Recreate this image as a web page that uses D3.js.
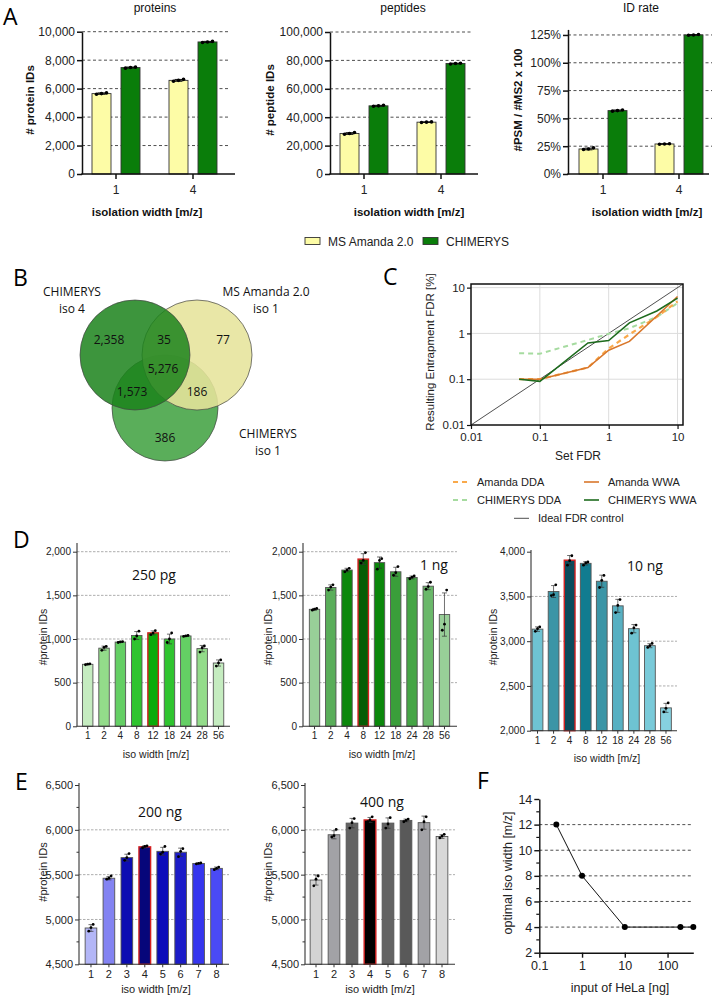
<!DOCTYPE html>
<html><head><meta charset="utf-8">
<script src="https://cdn.jsdelivr.net/npm/d3@7"></script>
<style>
body{margin:0;background:#fff}
</style></head><body>
<svg id="fig" width="715" height="999"></svg>
<script>
// ================= DATA =================
// Panel A
const isoGroupsA = ["1", "4"];
const seriesA = ["MS Amanda 2.0", "CHIMERYS"];
const proteinsAmanda = [5650, 6580];
const proteinsChimerys = [7480, 9280];
const proteinsRepsAmanda = [[5600, 5650, 5700], [6520, 6580, 6650]];
const proteinsRepsChimerys = [[7440, 7480, 7510], [9240, 9280, 9320]];
const peptidesAmanda = [28500, 36500];
const peptidesChimerys = [48000, 77800];
const peptidesRepsAmanda = [[28000, 28500, 29200], [36300, 36500, 36700]];
const peptidesRepsChimerys = [[47700, 48000, 48400], [77500, 77800, 78000]];
const idRateAmanda = [22.5, 27];
const idRateChimerys = [57, 125];
const idRateRepsAmanda = [[22, 22.5, 23.5], [26.8, 27, 27.2]];
const idRateRepsChimerys = [[56.5, 57, 57.6], [124.7, 125, 125.4]];
const proteinTicks = [0, 2000, 4000, 6000, 8000, 10000];
const peptideTicks = [0, 20000, 40000, 60000, 80000, 100000];
const idRateTicks = [0, 25, 50, 75, 100, 125];

// Panel B (Venn)
const vennSetNames = [["CHIMERYS", "iso 4"], ["MS Amanda 2.0", "iso 1"], ["CHIMERYS", "iso 1"]];
const vennCounts = ["2,358", "35", "77", "5,276", "1,573", "186", "386"];

// Panel C
const setFDR = [0.05, 0.1, 0.5, 1, 2, 5, 10];
const amandaDDA = [0.1, 0.1, 0.18, 0.47, 0.95, 2.3, 5.0];
const amandaWWA = [0.1, 0.1, 0.18, 0.43, 0.67, 2.4, 6.4];
const chimerysDDA = [0.37, 0.36, 0.72, 0.98, 1.3, 2.3, 4.6];
const chimerysWWA = [0.1, 0.09, 0.62, 0.7, 1.7, 3.1, 5.9];
const idealFDR = [0.01, 12];
const logTicksC = [0.01, 0.1, 1, 10];
const legendC = ["Amanda DDA", "Amanda WWA", "CHIMERYS DDA", "CHIMERYS WWA", "Ideal FDR control"];

// Panel D
const isoWidthsD = ["1", "2", "4", "8", "12", "18", "24", "28", "56"];
const ids250pg = [710, 895, 965, 1040, 1070, 1000, 1035, 890, 725];
const reps250pg = [[705, 712, 716], [870, 905, 915], [960, 966, 970], [1000, 1035, 1090], [1050, 1068, 1095], [960, 1000, 1070], [1030, 1035, 1040], [850, 900, 920], [690, 725, 760]];
const ids1ng = [1340, 1590, 1790, 1915, 1875, 1770, 1705, 1605, 1280];
const reps1ng = [[1330, 1342, 1350], [1560, 1595, 1620], [1770, 1790, 1810], [1870, 1900, 1990], [1800, 1900, 1920], [1730, 1760, 1830], [1690, 1708, 1722], [1570, 1600, 1650], [1100, 1170, 1560]];
const ids10ng = [3135, 3555, 3905, 3870, 3670, 3395, 3140, 2950, 2255];
const reps10ng = [[3110, 3140, 3160], [3510, 3520, 3630], [3850, 3900, 3955], [3850, 3875, 3885], [3600, 3680, 3735], [3320, 3400, 3465], [3090, 3150, 3180], [2930, 2950, 2975], [2210, 2250, 2310]];
const ticks250pg = [0, 500, 1000, 1500, 2000];
const ticks10ng = [2000, 2500, 3000, 3500, 4000];

// Panel E
const isoWidthsE = ["1", "2", "3", "4", "5", "6", "7", "8"];
const ids200ng = [4905, 5460, 5690, 5810, 5760, 5750, 5625, 5570];
const reps200ng = [[4870, 4910, 4945], [5450, 5460, 5485], [5660, 5690, 5735], [5800, 5815, 5822], [5730, 5750, 5815], [5700, 5760, 5790], [5620, 5625, 5630], [5555, 5570, 5585]];
const ids400ng = [5440, 5945, 6075, 6110, 6075, 6105, 6080, 5925];
const reps400ng = [[5375, 5450, 5485], [5920, 5935, 6005], [6020, 6080, 6125], [6090, 6110, 6145], [6020, 6065, 6135], [6090, 6105, 6120], [6000, 6090, 6145], [5910, 5930, 5950]];
const ticksE = [4500, 5000, 5500, 6000, 6500];
const minorTicksE = [4750, 5250, 5750, 6250];

// Panel F
const helaInput = [0.25, 1, 10, 200, 400];
const optimalIso = [12, 8, 4, 4, 4];
const ticksFy = [2, 4, 6, 8, 10, 12, 14];
const minorTicksFy = [3, 5, 7, 9, 11, 13];
const ticksFx = [0.1, 1, 10, 100];

// ================= STYLES =================
const colorsA = ["#fdfca6", "#0a7d0a"];
const pal250 = ["#c5ecc0", "#93dc8a", "#64cf64", "#2fc42f", "#0aab0a", "#2fc42f", "#64cf64", "#93dc8a", "#c5ecc0"];
const pal1ng = ["#98cf98", "#5aae5a", "#0b870b", "#055d05", "#0b870b", "#3a9e3a", "#45a545", "#6ab86a", "#98cf98"];
const pal10ng = ["#6ec3d2", "#3b95a6", "#0b4c5c", "#117c90", "#3b95a6", "#57b0c2", "#6ec3d2", "#79cad9", "#86d1df"];
const pal200 = ["#b3b6f7", "#8383f2", "#0c0cb2", "#06067a", "#0c0cba", "#1c1cc8", "#3636ee", "#4a4af5"];
const pal400 = ["#d3d3d3", "#a2a2a6", "#636363", "#000000", "#636363", "#595959", "#a2a2a6", "#d8d8d8"];

const AR = '"Liberation Sans", Arial, sans-serif';
const MY = '"Open Sans", "Noto Sans", sans-serif';

const svg = d3.select("#fig");
svg.append("rect").attr("width", 715).attr("height", 999).attr("fill", "#fff");

function txt(g, x, y, s, o = {}) {
  const t = g.append("text").attr("x", x).attr("y", y).text(s)
    .attr("font-size", o.size || 12).attr("font-family", o.family || AR)
    .attr("text-anchor", o.anchor || "middle").attr("fill", o.fill || "#111");
  if (o.weight) t.attr("font-weight", o.weight);
  if (o.rotate) t.attr("transform", `rotate(${o.rotate},${x},${y})`);
  return t;
}

// Panel letters
[["A", 3, 25], ["B", 13, 286], ["C", 383, 285], ["D", 13, 548], ["E", 15, 790], ["F", 477, 789]]
  .forEach(([l, x, y]) => txt(svg, x, y, l, { size: 23, family: MY, anchor: "start", fill: "#000" }));

// ================= PANEL A =================
function panelA(cfg) {
  const g = svg.append("g");
  const base = 174;
  const y = d3.scaleLinear().domain(cfg.yDomain).range([base, cfg.yTop]);
  const xg = d3.scaleBand().domain(isoGroupsA).range(cfg.groupRange);
  const xs = d3.scaleBand().domain(seriesA).range([-24, 24]).paddingInner(0.345);
  g.selectAll("line.grid").data(cfg.ticks.filter(t => t > 0)).join("line")
    .attr("x1", cfg.axisX).attr("x2", cfg.gridEnd).attr("y1", d => y(d)).attr("y2", d => y(d))
    .attr("stroke", "#222").attr("stroke-width", 0.8).attr("stroke-dasharray", "3,2.5");
  const rows = [];
  isoGroupsA.forEach((gn, i) => seriesA.forEach((s, j) =>
    rows.push({ g: gn, s, v: cfg.vals[j][i], reps: cfg.reps[j][i], color: colorsA[j] })));
  rows.forEach(r => {
    const x0 = xg(r.g) + xg.bandwidth() / 2 + xs(r.s);
    const w = xs.bandwidth();
    g.append("rect").attr("x", x0).attr("y", y(r.v)).attr("width", w).attr("height", base - y(r.v))
      .attr("fill", r.color).attr("stroke", "#333").attr("stroke-width", 0.9);
    const sd = d3.deviation(r.reps), cx = x0 + w / 2;
    g.append("line").attr("x1", cx).attr("x2", cx).attr("y1", y(r.v + sd)).attr("y2", y(r.v - sd)).attr("stroke", "#111").attr("stroke-width", 1);
    [r.v + sd, r.v - sd].forEach(e => g.append("line").attr("x1", cx - 4).attr("x2", cx + 4).attr("y1", y(e)).attr("y2", y(e)).attr("stroke", "#111").attr("stroke-width", 1));
    r.reps.forEach((d, k) => g.append("circle").attr("cx", cx + (k - 1) * 5).attr("cy", y(d)).attr("r", 1.8).attr("fill", "#000"));
  });
  const ax = g.append("g").attr("transform", `translate(${cfg.axisX},0)`)
    .call(d3.axisLeft(y).tickValues(cfg.ticks).tickFormat(cfg.fmt).tickSize(5).tickPadding(2).tickSizeOuter(0));
  ax.select(".domain").attr("stroke-width", 1.5).attr("stroke", "#111");
  ax.selectAll(".tick line").attr("stroke-width", 1.5).attr("stroke", "#111");
  ax.selectAll(".tick text").attr("font-size", 12).attr("font-family", AR).attr("fill", "#222");
  const bx = g.append("g").attr("transform", `translate(0,${base})`)
    .call(d3.axisBottom(xg).tickSize(5).tickPadding(6).tickSizeOuter(0));
  bx.select(".domain").remove();
  bx.selectAll(".tick line").attr("stroke-width", 1.5).attr("stroke", "#111");
  bx.selectAll(".tick text").attr("font-size", 12).attr("font-family", AR).attr("fill", "#222");
  g.append("line").attr("x1", cfg.axisX - 0.75).attr("x2", cfg.axisEnd).attr("y1", base).attr("y2", base).attr("stroke", "#111").attr("stroke-width", 1.5);
  txt(g, cfg.titleX, 12, cfg.title, { size: 12 });
  txt(g, cfg.ylabelX + 4, 100, cfg.ylabel, { size: 11.5, weight: "bold", rotate: -90 });
  txt(g, cfg.xlabelX, 216, "isolation width [m/z]", { size: 11.5, weight: "bold" });
}
const fmtC = d3.format(",");
panelA({ axisX: 82, yDomain: [0, 10000], yTop: 31.7, groupRange: [77.5, 231.5], gridEnd: 228, axisEnd: 235,
  ticks: proteinTicks, fmt: fmtC, vals: [proteinsAmanda, proteinsChimerys], reps: [proteinsRepsAmanda, proteinsRepsChimerys],
  title: "proteins", titleX: 155, ylabel: "# protein IDs", ylabelX: 30, xlabelX: 147 });
panelA({ axisX: 330, yDomain: [0, 100000], yTop: 32, groupRange: [325.5, 479.5], gridEnd: 473, axisEnd: 478,
  ticks: peptideTicks, fmt: fmtC, vals: [peptidesAmanda, peptidesChimerys], reps: [peptidesRepsAmanda, peptidesRepsChimerys],
  title: "peptides", titleX: 403, ylabel: "# peptide IDs", ylabelX: 270, xlabelX: 409 });
panelA({ axisX: 568, yDomain: [0, 130], yTop: 29.4, groupRange: [565, 717], gridEnd: 712, axisEnd: 709,
  ticks: idRateTicks, fmt: d => d + "%", vals: [idRateAmanda, idRateChimerys], reps: [idRateRepsAmanda, idRateRepsChimerys],
  title: "ID rate", titleX: 641, ylabel: "#PSM / #MS2 x 100", ylabelX: 518, xlabelX: 647 });

// legend A
{
  const g = svg.append("g");
  const lx = [305, 423];
  seriesA.forEach((s, i) => {
    g.append("rect").attr("x", lx[i]).attr("y", 237.5).attr("width", 15).attr("height", 7)
      .attr("fill", colorsA[i]).attr("stroke", "#333").attr("stroke-width", 0.9);
    txt(g, lx[i] + 23, 246, s, { size: 12, anchor: "start", fill: "#222" });
  });
}

// ================= PANEL B (Venn) =================
{
  const g = svg.append("g");
  const circles = [
    { cx: 165, cy: 408, r: 53, fill: "#5aae5a", op: 1 },
    { cx: 197, cy: 355, r: 55, fill: "#e6e49b", op: 0.88 },
    { cx: 135, cy: 355, r: 55, fill: "#1b821b", op: 0.85 }
  ];
  circles.forEach(c => g.append("circle").attr("cx", c.cx).attr("cy", c.cy).attr("r", c.r)
    .attr("fill", c.fill).attr("fill-opacity", c.op).attr("stroke", "#444").attr("stroke-width", 0.7));
  const namePos = [[72, 296, 313], [266, 296, 313], [268, 438, 455]];
  vennSetNames.forEach((n, i) => {
    txt(g, namePos[i][0], namePos[i][1], n[0], { size: 12, family: MY, fill: "#111" });
    txt(g, namePos[i][0], namePos[i][2], n[1], { size: 12, family: MY, fill: "#111" });
  });
  const cntPos = [[109, 344], [164, 344], [223, 344], [163, 373], [132, 396], [197, 396], [165, 442]];
  vennCounts.forEach((c, i) => txt(g, cntPos[i][0], cntPos[i][1], c, { size: 12, family: MY, fill: "#111" }));
}

// ================= PANEL C =================
{
  const g = svg.append("g");
  const x = d3.scaleLog().domain([0.01, 12]).range([471, 683]);
  const y = d3.scaleLog().domain([0.01, 12]).range([425, 284]);
  [0.1, 1, 10].forEach(v => {
    g.append("line").attr("x1", x(v)).attr("x2", x(v)).attr("y1", 284).attr("y2", 425).attr("stroke", "#dcdcdc").attr("stroke-width", 1);
    g.append("line").attr("x1", 471).attr("x2", 683).attr("y1", y(v)).attr("y2", y(v)).attr("stroke", "#dcdcdc").attr("stroke-width", 1);
  });
  svg.append("clipPath").attr("id", "clipC").append("rect").attr("x", 471).attr("y", 284).attr("width", 212).attr("height", 141);
  const gl = g.append("g").attr("clip-path", "url(#clipC)");
  const line = d3.line().x(d => x(d[0])).y(d => y(d[1]));
  gl.append("path").attr("d", line(d3.zip(idealFDR, idealFDR))).attr("fill", "none").attr("stroke", "#222").attr("stroke-width", 0.8);
  const series = [
    { v: chimerysDDA, c: "#a6dba0", w: 2, dash: "5,4" },
    { v: amandaDDA, c: "#f9a94b", w: 2.2, dash: "5,4" },
    { v: amandaWWA, c: "#d9772b", w: 1.6, dash: null },
    { v: chimerysWWA, c: "#1d6b1d", w: 1.6, dash: null }
  ];
  series.forEach(s => {
    const p = gl.append("path").attr("d", line(d3.zip(setFDR, s.v))).attr("fill", "none")
      .attr("stroke", s.c).attr("stroke-width", s.w);
    if (s.dash) p.attr("stroke-dasharray", s.dash);
  });
  g.append("rect").attr("x", 471).attr("y", 284).attr("width", 212).attr("height", 141)
    .attr("fill", "none").attr("stroke", "#111").attr("stroke-width", 1.5);
  const fmt = d3.format("~g");
  const bx = g.append("g").attr("transform", "translate(0,425)")
    .call(d3.axisBottom(x).tickValues(logTicksC).tickFormat(fmt).tickSize(4).tickPadding(4).tickSizeOuter(0));
  bx.select(".domain").remove();
  bx.selectAll(".tick line").attr("stroke", "#111").attr("stroke-width", 1.2);
  bx.selectAll(".tick text").attr("font-size", 11.5).attr("font-family", AR).attr("fill", "#222");
  const ly = g.append("g").attr("transform", "translate(471,0)")
    .call(d3.axisLeft(y).tickValues(logTicksC).tickFormat(fmt).tickSize(4).tickPadding(2).tickSizeOuter(0));
  ly.select(".domain").remove();
  ly.selectAll(".tick line").attr("stroke", "#111").attr("stroke-width", 1.2);
  ly.selectAll(".tick text").attr("font-size", 11.5).attr("font-family", AR).attr("fill", "#222");
  txt(g, 578, 460, "Set FDR", { size: 12, fill: "#222" });
  txt(g, 434, 352, "Resulting Entrapment FDR [%]", { size: 11.5, rotate: -90, fill: "#222" });
  // legend
  const leg = [
    { x: 453, y: 482, c: "#f9a94b", w: 2.2, dash: "5,4" },
    { x: 584, y: 482, c: "#d9772b", w: 1.6, dash: null },
    { x: 453, y: 500, c: "#a6dba0", w: 2, dash: "5,4" },
    { x: 584, y: 500, c: "#1d6b1d", w: 1.6, dash: null },
    { x: 514, y: 518.3, c: "#222", w: 0.8, dash: null }
  ];
  leg.forEach((l, i) => {
    const ln = g.append("line").attr("x1", l.x).attr("x2", l.x + 15).attr("y1", l.y).attr("y2", l.y)
      .attr("stroke", l.c).attr("stroke-width", l.w);
    if (l.dash) ln.attr("stroke-dasharray", l.dash);
    txt(g, l.x + 24, l.y + 4, legendC[i], { size: 11, anchor: "start", fill: "#222" });
  });
}

// ================= PANELS D / E =================
function panelBars(cfg) {
  const g = svg.append("g");
  const y = d3.scaleLinear().domain(cfg.yDomain).range(cfg.yRange);
  const base = cfg.yRange[0];
  const x = d3.scaleBand().domain(cfg.cats).range(cfg.band).paddingInner(cfg.pad).paddingOuter(cfg.pad / 2);
  g.selectAll("line.grid").data(cfg.grid).join("line")
    .attr("x1", cfg.axisX).attr("x2", cfg.axisEnd).attr("y1", d => y(d)).attr("y2", d => y(d))
    .attr("stroke", "#8a8a8a").attr("stroke-width", 0.7).attr("stroke-dasharray", "2.5,1.5");
  cfg.cats.forEach((c, i) => {
    const v = cfg.vals[i];
    const hi = i === cfg.hi;
    g.append("rect").attr("x", x(c)).attr("y", y(v)).attr("width", x.bandwidth()).attr("height", base - y(v))
      .attr("fill", cfg.colors[i]).attr("stroke", hi ? "#d42020" : "#555").attr("stroke-width", hi ? 1.4 : 0.9);
  });
  cfg.cats.forEach((c, i) => {
    const v = cfg.vals[i], reps = cfg.reps[i];
    const sd = d3.deviation(reps), cx = x(c) + x.bandwidth() / 2;
    const col = "#333";
    g.append("line").attr("x1", cx).attr("x2", cx).attr("y1", y(v + sd)).attr("y2", y(v - sd)).attr("stroke", col).attr("stroke-width", 0.7);
    [v + sd, v - sd].forEach(e => g.append("line").attr("x1", cx - 2.5).attr("x2", cx + 2.5).attr("y1", y(e)).attr("y2", y(e)).attr("stroke", col).attr("stroke-width", 0.7));
    reps.forEach((d, k) => g.append("circle").attr("cx", cx + (k - 1) * 2.2).attr("cy", y(d)).attr("r", 1.4).attr("fill", "#000"));
  });
  const ax = g.append("g").attr("transform", `translate(${cfg.axisX},0)`)
    .call(d3.axisLeft(y).tickValues(cfg.ticks).tickFormat(d3.format(",")).tickSize(4).tickPadding(2).tickSizeOuter(0));
  ax.select(".domain").remove();
  ax.selectAll(".tick line").attr("stroke", "#333").attr("stroke-width", 1);
  ax.selectAll(".tick text").attr("font-size", cfg.tickSize).attr("font-family", AR).attr("fill", "#222");
  if (cfg.minor) {
    g.selectAll("line.minor").data(cfg.minor).join("line")
      .attr("x1", cfg.axisX - 2.5).attr("x2", cfg.axisX).attr("y1", d => y(d)).attr("y2", d => y(d))
      .attr("stroke", "#333").attr("stroke-width", 1);
  }
  g.append("line").attr("x1", cfg.axisX).attr("x2", cfg.axisX).attr("y1", base).attr("y2", cfg.axisTop).attr("stroke", "#333").attr("stroke-width", 1.1);
  const bx = g.append("g").attr("transform", `translate(0,${base})`)
    .call(d3.axisBottom(x).tickSize(3).tickPadding(3).tickSizeOuter(0));
  bx.select(".domain").remove();
  bx.selectAll(".tick line").attr("stroke", "#333").attr("stroke-width", 1);
  bx.selectAll(".tick text").attr("font-size", cfg.xTickSize).attr("font-family", AR).attr("fill", "#222");
  g.append("line").attr("x1", cfg.axisX - 0.5).attr("x2", cfg.axisEnd).attr("y1", base).attr("y2", base).attr("stroke", "#333").attr("stroke-width", 1.1);
  txt(g, cfg.xlabelX, cfg.xlabelY, "iso width [m/z]", { size: cfg.labelSize, fill: "#222" });
  txt(g, cfg.ylabelX + 4, cfg.ylabelY, "#protein IDs", { size: cfg.labelSize, rotate: -90, fill: "#222" });
  txt(g, cfg.tagX, cfg.tagY, cfg.tag, { size: 14, family: MY, fill: "#111" });
}

panelBars({ cats: isoWidthsD, vals: ids250pg, reps: reps250pg, colors: pal250, hi: 4,
  yDomain: [0, 2000], yRange: [726.3, 551.7], axisTop: 543, axisX: 77, band: [79.5, 226.7], pad: 0.36, axisEnd: 230,
  ticks: ticks250pg, grid: [500, 1000, 1500, 2000], tickSize: 10, xTickSize: 10, labelSize: 10.5,
  xlabelX: 156, xlabelY: 758, ylabelX: 43, ylabelY: 637, tag: "250 pg", tagX: 154, tagY: 580 });
panelBars({ cats: isoWidthsD, vals: ids1ng, reps: reps1ng, colors: pal1ng, hi: 3,
  yDomain: [0, 2000], yRange: [726.3, 551.7], axisTop: 543, axisX: 303, band: [306.4, 452.6], pad: 0.36, axisEnd: 457,
  ticks: ticks250pg, grid: [500, 1000, 1500, 2000], tickSize: 10, xTickSize: 10, labelSize: 10.5,
  xlabelX: 382, xlabelY: 758, ylabelX: 268, ylabelY: 637, tag: "1 ng", tagX: 434, tagY: 570 });
panelBars({ cats: isoWidthsD, vals: ids10ng, reps: reps10ng, colors: pal10ng, hi: 2,
  yDomain: [2000, 4000], yRange: [730.7, 551.7], axisTop: 550, axisX: 531, band: [529.5, 674], pad: 0.33, axisEnd: 677,
  ticks: ticks10ng, grid: [2500, 3000, 3500], tickSize: 10, xTickSize: 10, labelSize: 10.5,
  xlabelX: 607, xlabelY: 762, ylabelX: 493, ylabelY: 637, tag: "10 ng", tagX: 645, tagY: 571 });
panelBars({ cats: isoWidthsE, vals: ids200ng, reps: reps200ng, colors: pal200, hi: 3,
  yDomain: [4500, 6500], yRange: [964.3, 785], axisTop: 783, axisX: 79, band: [82, 225.5], pad: 0.35, axisEnd: 229,
  ticks: ticksE, minor: minorTicksE, grid: [5000, 5500, 6000], tickSize: 11, xTickSize: 11, labelSize: 11,
  xlabelX: 156, xlabelY: 993, ylabelX: 43, ylabelY: 872, tag: "200 ng", tagX: 160, tagY: 817 });
panelBars({ cats: isoWidthsE, vals: ids400ng, reps: reps400ng, colors: pal400, hi: 3,
  yDomain: [4500, 6500], yRange: [964.3, 785], axisTop: 783, axisX: 305, band: [307, 451], pad: 0.35, axisEnd: 455,
  ticks: ticksE, minor: minorTicksE, grid: [5000, 5500, 6000], tickSize: 11, xTickSize: 11, labelSize: 11,
  xlabelX: 380, xlabelY: 993, ylabelX: 268, ylabelY: 872, tag: "400 ng", tagX: 382, tagY: 807 });

// ================= PANEL F =================
{
  const g = svg.append("g");
  const x = d3.scaleLog().domain([0.1, 400]).range([539.3, 693.3]);
  const y = d3.scaleLinear().domain([2, 14]).range([952.7, 799]);
  g.selectAll("line.grid").data([4, 6, 8, 10, 12]).join("line")
    .attr("x1", 539.3).attr("x2", 693).attr("y1", d => y(d)).attr("y2", d => y(d))
    .attr("stroke", "#222").attr("stroke-width", 0.8).attr("stroke-dasharray", "3,2.5");
  g.append("path").attr("d", d3.line().x(d => x(d[0])).y(d => y(d[1]))(d3.zip(helaInput, optimalIso)))
    .attr("fill", "none").attr("stroke", "#111").attr("stroke-width", 1);
  helaInput.forEach((h, i) => g.append("circle").attr("cx", x(h)).attr("cy", y(optimalIso[i])).attr("r", 3).attr("fill", "#000"));
  const ax = g.append("g").attr("transform", "translate(539.3,0)")
    .call(d3.axisLeft(y).tickValues(ticksFy).tickSize(5).tickPadding(2).tickSizeOuter(0));
  ax.select(".domain").attr("stroke", "#111").attr("stroke-width", 1.4);
  ax.selectAll(".tick line").attr("stroke", "#111").attr("stroke-width", 1.4);
  ax.selectAll(".tick text").attr("font-size", 12.5).attr("font-family", AR).attr("fill", "#222");
  g.selectAll("line.minor").data(minorTicksFy).join("line")
    .attr("x1", 536.3).attr("x2", 539.3).attr("y1", d => y(d)).attr("y2", d => y(d)).attr("stroke", "#111").attr("stroke-width", 1.2);
  const bx = g.append("g").attr("transform", "translate(0,952.7)")
    .call(d3.axisBottom(x).tickValues(ticksFx).tickFormat(d3.format("~g")).tickSize(5).tickPadding(3).tickSizeOuter(0));
  bx.select(".domain").attr("stroke", "#111").attr("stroke-width", 1.4);
  bx.selectAll(".tick line").attr("stroke", "#111").attr("stroke-width", 1.4);
  bx.selectAll(".tick text").attr("font-size", 12.5).attr("font-family", AR).attr("fill", "#222");
  txt(g, 620, 992, "input of HeLa [ng]", { size: 12.5, fill: "#222" });
  txt(g, 512, 873, "optimal iso width [m/z]", { size: 12.5, rotate: -90, fill: "#222" });
}
</script>
</body></html>
